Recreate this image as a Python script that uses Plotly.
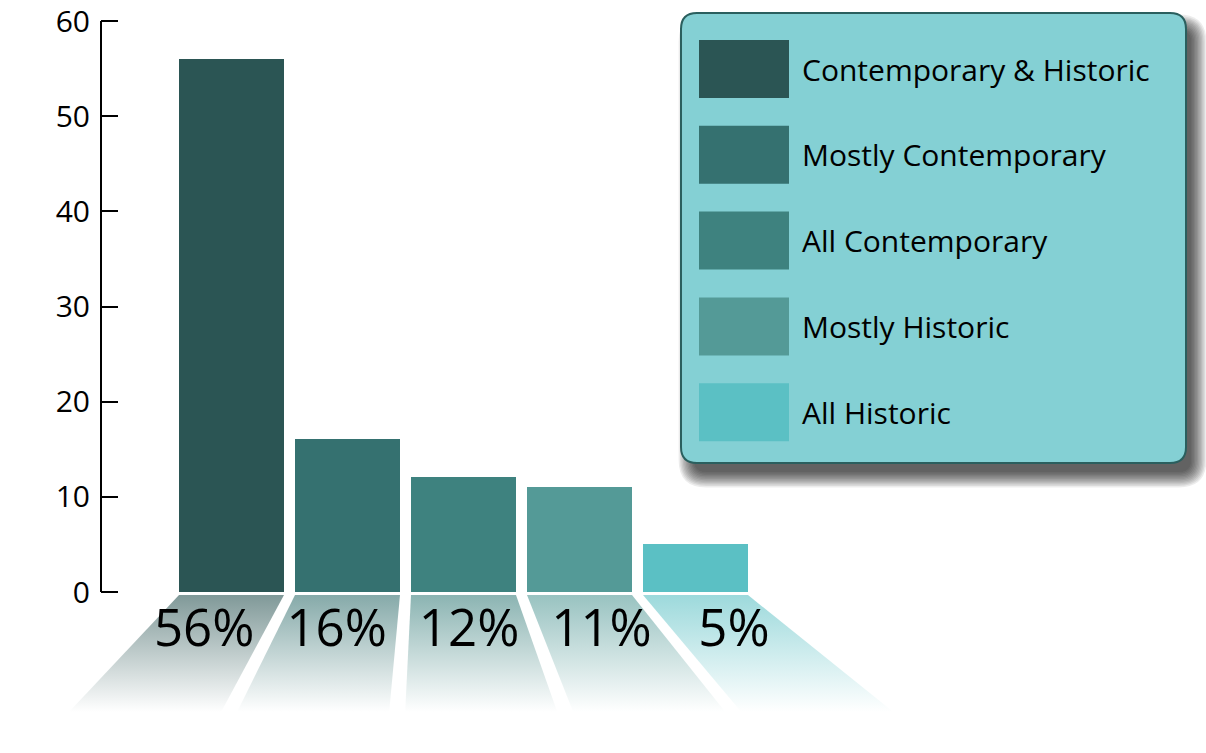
import plotly.graph_objects as go

# ---------------- data ----------------
categories = ["Contemporary & Historic", "Mostly Contemporary", "All Contemporary",
              "Mostly Historic", "All Historic"]
counts = [56, 16, 12, 11, 5]
colors = ["#2b5554", "#357170", "#3e827f", "#549a97", "#5bc0c4"]
y_ticks = [0, 10, 20, 30, 40, 50, 60]

# ---------------- layout constants ----------------
W, H = 1206, 753
FONT = "Open Sans"
AXIS_X_PX = 101          # y-axis line position
Y_TOP_PX, Y_ZERO_PX = 21, 592
UNIT_PX = 116            # pixels per category
FIRST_CENTER_PX = 231.5
BAR_W = 0.905
TRAP_TOP_PX = 595
DEPTH = 117              # trapezoid depth in px
VP = 1.66                # perspective vanishing x (category units)
SPREAD = 0.449
Y_PAD = 1.0              # axis range padding (data units) so end ticks are drawn


def hex_rgba(h, a):
    h = h.lstrip("#")
    r, g, b = int(h[0:2], 16), int(h[2:4], 16), int(h[4:6], 16)
    return f"rgba({r},{g},{b},{a})"


def px(x):
    return x / W


def py(y):
    return 1 - y / H


x_idx = list(range(len(categories)))
full_x0 = -FIRST_CENTER_PX / UNIT_PX
full_range = [full_x0, full_x0 + W / UNIT_PX]
bar_range = [full_x0 + AXIS_X_PX / UNIT_PX, full_range[1]]

y_min, y_max = y_ticks[0], y_ticks[-1]
px_per_y = (Y_ZERO_PX - Y_TOP_PX) / (y_max - y_min)
y_dom = [py(Y_ZERO_PX + Y_PAD * px_per_y), py(Y_TOP_PX - Y_PAD * px_per_y)]

fig = go.Figure()

# bars
fig.add_trace(go.Bar(
    x=x_idx, y=counts, width=BAR_W,
    marker=dict(color=colors, line=dict(width=0)),
    hoverinfo="skip", showlegend=False, xaxis="x", yaxis="y",
))


def spread(xv, frac=1.0):
    return xv + (xv - VP) * SPREAD * frac


# perspective "floor" trapezoids with a fading gradient
for i, c in zip(x_idx, colors):
    l, r = i - BAR_W / 2, i + BAR_W / 2
    xs = [l, r, spread(r), spread(l), l]
    ys = [0, 0, -DEPTH, -DEPTH, 0]
    fig.add_trace(go.Scatter(
        x=xs, y=ys, mode="lines", fill="toself",
        line=dict(width=0, color="rgba(0,0,0,0)"),
        fillgradient=dict(type="vertical",
                          colorscale=[[0, hex_rgba(c, 0.0)], [1, hex_rgba(c, 0.6)]],
                          start=-DEPTH, stop=0),
        hoverinfo="skip", showlegend=False, xaxis="x2", yaxis="y2",
    ))

# percentage labels
total = sum(counts)
pct_text = [f"{round(100 * v / total)}%" for v in counts]
LABEL_FRAC = 0.316
fig.add_trace(go.Scatter(
    x=[spread(i, LABEL_FRAC) for i in x_idx],
    y=[-DEPTH * LABEL_FRAC - 1] * len(x_idx),
    mode="text", text=pct_text, textposition="middle center",
    textfont=dict(family=FONT, size=51, color="black"),
    hoverinfo="skip", showlegend=False, xaxis="x2", yaxis="y2", cliponaxis=False,
))

shapes = []
annotations = []

# y-axis line from first to last tick
shapes.append(dict(
    type="line", xref="paper", yref="y",
    x0=px(AXIS_X_PX), x1=px(AXIS_X_PX), y0=y_min, y1=y_max,
    line=dict(color="black", width=2), layer="above",
))


def rrect_path(x0, y0, x1, y1, r):
    pts = [
        ("M", [(x0 + r, y0)]), ("L", [(x1 - r, y0)]), ("Q", [(x1, y0), (x1, y0 + r)]),
        ("L", [(x1, y1 - r)]), ("Q", [(x1, y1), (x1 - r, y1)]),
        ("L", [(x0 + r, y1)]), ("Q", [(x0, y1), (x0, y1 - r)]),
        ("L", [(x0, y0 + r)]), ("Q", [(x0, y0), (x0 + r, y0)]),
    ]
    s = ""
    for cmd, ps in pts:
        s += cmd + " " + " ".join(f"{px(a):.5f},{py(b):.5f}" for a, b in ps) + " "
    return s + "Z"


# legend box: shadow, box, swatches, labels
LX0, LY0, LX1, LY1, LR = 681, 13, 1186, 463, 16
SH_DX, SH_DY = 9, 13
for k in range(12):
    e = -4 + k * 1.4
    shapes.append(dict(
        type="path", xref="paper", yref="paper",
        path=rrect_path(LX0 + SH_DX - e, LY0 + SH_DY - e, LX1 + SH_DX + e, LY1 + SH_DY + e, LR + e),
        fillcolor="rgba(0,0,0,0.075)", line=dict(width=0), layer="above",
    ))
shapes.append(dict(
    type="path", xref="paper", yref="paper",
    path=rrect_path(LX0, LY0, LX1, LY1, LR),
    fillcolor="#84d0d4", line=dict(color="#2a5f5e", width=2), layer="above",
))
SW_X0, SW_X1, SW_Y0, SW_H, ROW = 699, 789, 40, 58, 85.8
for i, (name, c) in enumerate(zip(categories, colors)):
    top = SW_Y0 + ROW * i
    shapes.append(dict(
        type="rect", xref="paper", yref="paper",
        x0=px(SW_X0), x1=px(SW_X1), y0=py(top + SW_H), y1=py(top),
        fillcolor=c, line=dict(width=0), layer="above",
    ))
    annotations.append(dict(
        xref="paper", yref="paper", x=px(800), y=py(top + SW_H / 2),
        xanchor="left", yanchor="middle", text=name, showarrow=False,
        font=dict(family=FONT, size=30, color="black"),
    ))

fig.update_layout(
    width=W, height=H,
    margin=dict(l=0, r=0, t=0, b=0, autoexpand=False),
    paper_bgcolor="white", plot_bgcolor="rgba(0,0,0,0)",
    showlegend=False,
    bargap=0,
    xaxis=dict(domain=[px(AXIS_X_PX), 1], range=bar_range, visible=False,
               fixedrange=True, automargin=False, anchor="y"),
    yaxis=dict(
        domain=y_dom, range=[y_min - Y_PAD, y_max + Y_PAD],
        anchor="x", side="left", automargin=False,
        tickmode="array", tickvals=y_ticks,
        ticks="inside", ticklen=17, tickwidth=2, tickcolor="black",
        showline=False,
        showgrid=False, zeroline=False,
        tickfont=dict(family=FONT, size=30, color="black"),
        ticklabelstandoff=10, ticklabeloverflow="allow",
    ),
    xaxis2=dict(domain=[0, 1], range=full_range, visible=False,
                fixedrange=True, automargin=False, anchor="y2"),
    yaxis2=dict(
        domain=[0, py(TRAP_TOP_PX)], range=[-(H - TRAP_TOP_PX), 0],
        visible=False, anchor="x2", fixedrange=True, automargin=False,
    ),
    shapes=shapes, annotations=annotations,
)

fig.write_html("out.html", config={"displayModeBar": False},
               post_script="document.body.style.margin='0';")
